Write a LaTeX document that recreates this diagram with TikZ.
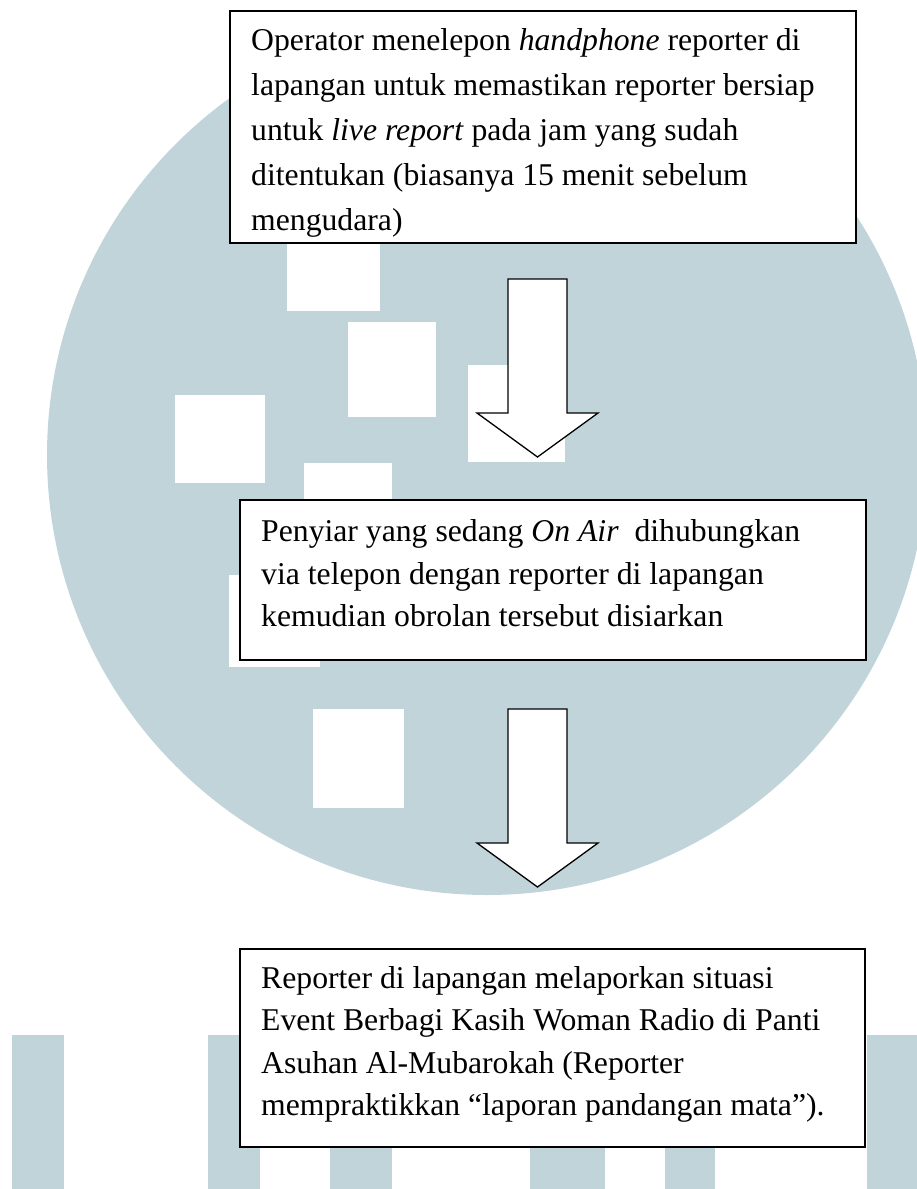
\documentclass[tikz,border=0pt]{standalone}
\usepackage{fontspec}
\setmainfont{Liberation Serif}
\usetikzlibrary{positioning,calc}
\definecolor{wmblue}{RGB}{193,212,218}
\newcommand{\blockarrow}[1]{%
	\draw[barrow] (#1) ++(-29.5,0) -- ++(59,0) -- ++(0,134) -- ++(31,0) -- ++(-60.5,44) -- ++(-60.5,-44) -- ++(31,0) -- cycle;}

\begin{document}
\begin{tikzpicture}[x=1pt, y=-1pt,
			box/.style={rectangle, draw, fill=white, line width=1.8pt, inner sep=0pt, anchor=north west},
			txt/.style={inner sep=0pt, anchor=base west, font=\fontsize{31.7}{45}\selectfont},
			barrow/.style={draw, fill=white, line width=1.3pt, line join=miter},
			]
			\useasboundingbox (0,0) rectangle (917,1189);
			% watermark
			\fill[wmblue] (487,455) circle[radius=440];
			\fill[white] (287,243) rectangle (380,311);
			\fill[white] (348,322) rectangle (436,417);
			\fill[white] (175,395) rectangle (265,483);
			\fill[white] (468,365) rectangle (565,462);
			\fill[white] (304,463) rectangle (392,505);
			\fill[white] (229,575) rectangle (320,667);
			\fill[white] (313,709) rectangle (404,808);
			\foreach \xa/\xb in {12/64, 208/260, 330/392, 530/605, 665/715, 867/917}
			\fill[wmblue] (\xa,1035) rectangle (\xb,1189);
			
			\node[box, minimum width=626pt, minimum height=232pt] (b1) at (229,10) {};
			\node[box, minimum width=626pt, minimum height=160pt] (b2) at (239,499) {};
			\node[box, minimum width=625pt, minimum height=198pt] (b3) at (239,948) {};
			
			\node[txt] (t1) at ($(b1.north west)+(22,40)$) {\parbox[t]{600pt}{Operator menelepon \textit{handphone} reporter di\\
					lapangan untuk memastikan reporter bersiap\\
					untuk \textit{live report} pada jam yang sudah\\
					ditentukan (biasanya 15 menit sebelum\\
					mengudara)}};
			\node[txt, font=\fontsize{31.7}{42.5}\selectfont] (t2) at ($(b2.north west)+(22,42.5)$) {\parbox[t]{600pt}{Penyiar yang sedang \textit{On Air}~ dihubungkan\\
					via telepon dengan reporter di lapangan\\
					kemudian obrolan tersebut disiarkan}};
			\node[txt, font=\fontsize{31.7}{42.6}\selectfont] (t3) at ($(b3.north west)+(22,40)$) {\parbox[t]{600pt}{Reporter di lapangan melaporkan situasi\\
					Event Berbagi Kasih Woman Radio di Panti\\
					Asuhan Al-Mubarokah (Reporter\\
					mempraktikkan “laporan pandangan mata”).}};
			
			\coordinate (a1) at (537.5,279);
			\coordinate (a2) at (537.5,709);
			\blockarrow{a1}
			\blockarrow{a2}
			\end{tikzpicture}
\end{document}
